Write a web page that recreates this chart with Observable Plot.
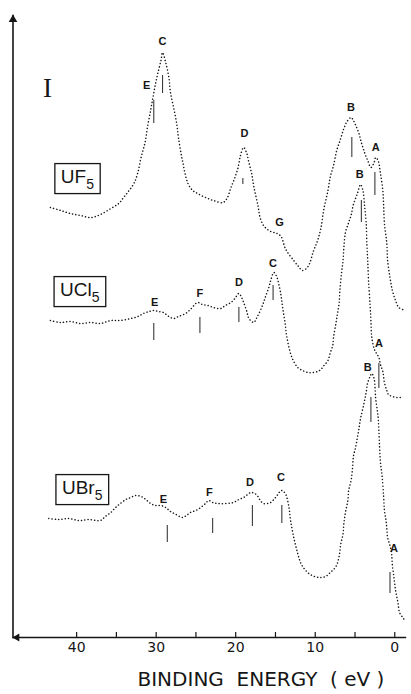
<!DOCTYPE html>
<html><head><meta charset="utf-8">
<script src="https://cdn.jsdelivr.net/npm/d3@7"></script>
<script src="https://cdn.jsdelivr.net/npm/@observablehq/plot@0.6"></script>
<style>body{margin:0;background:#fff}</style>
</head><body><div id="chart"></div>
<script>
// Binding energy (eV) and intensity (arbitrary units, spectra stacked)
const uf5E = [43.3,42.0,40.8,39.5,38.2,37.0,35.7,34.7,34.1,33.5,32.8,32.3,31.9,31.4,31.1,30.7,30.4,30.1,29.8,29.4,29.2,28.8,28.4,28.2,27.8,27.4,27.2,26.7,26.0,25.4,24.8,23.8,22.8,21.6,21.1,20.6,20.1,19.7,19.4,19.0,18.6,18.4,18.0,17.7,17.2,16.9,16.4,15.6,14.8,14.3,13.7,12.7,12.1,11.6,10.9,10.2,9.7,9.3,8.9,8.4,8.1,7.7,7.3,6.8,6.4,6.0,5.5,5.2,4.9,4.5,4.2,3.8,3.4,3.0,2.6,2.4,2.1,1.8,1.5,1.4,1.3,1.0,0.9,0.6,0.3,-0.1,-0.5,-1.0];
const uf5I = [430,427,424,422,420,423,429,434,440,446,454,465,480,495,510,527,540,553,564,577,585,575,560,545,530,513,500,477,454,447,444,440,437,435,439,450,460,470,482,490,484,477,464,450,432,419,411,406,404,401,388,377,371,367,371,387,397,409,429,447,461,472,487,499,509,516,520,517,512,504,495,485,477,470,475,480,477,464,447,432,414,394,377,360,347,337,330,328];

const ucl5E = [43.3,42.0,40.8,39.5,38.2,37.0,35.7,34.5,33.2,32.3,31.6,30.9,30.3,29.7,29.1,28.4,27.8,27.2,26.3,25.7,24.8,24.2,23.5,22.8,21.9,21.3,20.6,20.1,19.6,19.2,19.0,18.6,18.4,18.0,17.7,17.4,16.9,16.5,16.2,15.8,15.6,15.2,14.8,14.6,14.3,14.1,13.8,13.6,13.1,12.7,12.2,11.6,10.9,10.3,9.7,9.3,8.9,8.4,8.1,7.8,7.7,7.4,7.2,7.0,6.9,6.7,6.5,6.4,6.2,5.8,5.5,5.2,4.7,4.3,4.0,3.8,3.6,3.5,3.4,3.3,3.1,3.0,2.9,2.6,2.3,2.0,1.8,1.5,1.3,1.0,0.8,0.3,-0.3,-1.0];
const ucl5I = [317,315,316,314,315,314,317,317,319,321,324,326,327,326,325,321,319,321,324,328,335,333,332,330,329,332,335,339,344,339,335,326,320,316,315,319,327,335,342,351,357,365,360,354,342,330,315,302,284,276,270,267,265,265,266,268,272,277,285,292,300,314,324,334,347,364,377,390,405,415,422,433,444,453,447,432,415,392,377,357,332,317,301,289,284,280,273,266,255,247,243,241,240,240];

const ubr5E = [43.5,42.3,41.0,39.7,38.5,37.0,36.4,35.7,35.1,34.5,33.8,33.2,32.6,31.9,31.3,30.7,30.1,29.4,28.8,28.2,27.5,26.7,26.2,25.7,25.0,24.4,23.8,23.4,22.9,22.3,21.3,20.3,19.6,19.0,18.5,18.1,17.6,17.2,16.9,16.5,16.0,15.6,15.1,14.7,14.3,14.0,13.7,13.3,13.1,12.7,12.2,11.8,11.4,10.8,10.1,9.3,8.7,8.1,7.4,7.0,6.8,6.5,6.4,6.2,5.9,5.8,5.5,5.3,5.2,4.9,4.7,4.5,4.3,3.9,3.6,3.4,3.1,2.9,2.6,2.4,2.1,2.0,1.9,1.8,1.6,1.4,1.3,1.1,1.0,0.9,0.6,0.4,0.3,0.1,-0.1,-0.4,-0.6,-1.0,-1.3];
const ubr5I = [119,118,119,117,118,117,121,125,130,134,138,140,142,141,138,134,132,132,130,126,123,120,122,125,127,130,134,137,135,134,134,135,138,140,143,145,144,141,137,134,134,135,139,143,147,146,143,130,117,100,84,74,69,64,61,60,61,65,71,81,93,104,114,125,137,147,157,170,181,191,200,209,219,233,245,255,261,264,259,239,221,207,189,175,162,141,127,117,109,100,92,84,72,60,47,35,25,20,17];

// Peak letters: [letter, E, I]
const uf5Labels = [["C",29.2,596],["E",31.2,552],["D",18.9,504],["G",14.5,415],["B",5.5,530],["A",2.4,490]];
const ucl5Labels = [["E",30.2,335],["F",24.5,344],["D",19.6,355],["C",15.3,374],["B",4.4,463],["A",2.0,294]];
const ubr5Labels = [["E",29.1,138],["F",23.3,145],["D",18.2,155],["C",14.3,160],["B",3.4,270],["A",0.1,89]];
// Peak position bars: [E, I from, I to]
const uf5Bars = [[29.2,544,562],[30.3,514,537],[19.1,453,459],[5.4,480,500],[2.5,442,465]];
const ucl5Bars = [[30.3,297,314],[24.5,304,320],[19.6,315,330],[15.3,337,352],[4.2,415,437],[2.0,249,274]];
const ubr5Bars = [[28.6,95,112],[22.9,104,119],[17.9,111,132],[14.2,114,132],[3.0,215,240],[0.6,44,65]];

const compounds = [["UF","5",39.9,461],["UCl","5",39.6,348],["UBr","5",39.3,150]];
const xTicks = [40,30,20,10,0];
const xMinorTicks = [35,25,15,5];

const toRows = (E, I) => E.map((e, i) => ({E: e, I: I[i]}));
const spectra = [toRows(uf5E, uf5I), toRows(ucl5E, ucl5I), toRows(ubr5E, ubr5I)];
const labels = [...uf5Labels, ...ucl5Labels, ...ubr5Labels].map(([t, E, I]) => ({t, E, I}));
const bars = [...uf5Bars, ...ucl5Bars, ...ubr5Bars].map(([E, I1, I2]) => ({E, I1, I2}));
const comps = compounds.map(([name, sub, E, I]) => ({name, sub, E, I}));

const ink = "#161616";
const chart = Plot.plot({
  width: 411, height: 694,
  marginLeft: 12.5, marginRight: 4.8, marginTop: 15, marginBottom: 57,
  x: {domain: [48, -1.5]},
  y: {domain: [0, 622], axis: null},
  style: {background: "#fff", fontFamily: "DejaVu Sans", color: ink},
  marks: [
    Plot.frame({anchor: "left", stroke: ink, strokeWidth: 1.6}),
    Plot.ruleY([0], {stroke: ink, strokeWidth: 1.6}),
    Plot.dot([0], {frameAnchor: "top-left", symbol: "triangle", r: 3.2, fill: ink, dy: 4}),
    Plot.dot([0], {frameAnchor: "bottom-left", symbol: "triangle", r: 3, fill: ink, rotate: -90, dx: 4}),
    Plot.ruleX([...xTicks, ...xMinorTicks], {x: d => d, y1: 0, y2: 5, stroke: ink, strokeWidth: 1.2}),
    Plot.axisX({ticks: xTicks, tickSize: 0, tickPadding: 5, fontSize: 14, label: null, fill: ink}),
    ...spectra.map(s => Plot.line(s, {x: "E", y: "I", curve: "catmull-rom", stroke: ink,
      strokeWidth: 1.5, strokeDasharray: "0.1 3.2", strokeLinecap: "round"})),
    Plot.ruleX(bars, {x: "E", y1: "I1", y2: "I2", stroke: "#3a3a3a", strokeWidth: 1.1}),
    Plot.text(labels, {x: "E", y: "I", text: "t", fontSize: 11, fontWeight: "bold",
      fontFamily: "Liberation Sans", fill: ink}),
    Plot.text(comps, {x: "E", y: "I", text: "name", fontSize: 19, fontFamily: "Liberation Sans",
      fill: ink, className: "compound"}),
    Plot.text(["I"], {frameAnchor: "top-left", dx: 30, dy: 62, fontSize: 27,
      fontFamily: "Liberation Serif", fill: ink}),
    Plot.text(["BINDING\u00A0\u00A0ENERGY\u00A0\u00A0(\u00A0eV\u00A0)"], {frameAnchor: "bottom-left",
      textAnchor: "start", dx: 124.5, dy: 48, fontSize: 20, fontFamily: "DejaVu Sans", fill: ink})
  ]
});
document.getElementById("chart").append(chart);

// subscript digits and boxes around the compound names
d3.select(chart).selectAll("g.compound text").each(function(d, i) {
  const t = d3.select(this);
  t.append("tspan").attr("font-size", 14).attr("dy", 6).text(comps[i].sub);
  const b = this.getBBox();
  d3.select(this.parentNode).insert("rect", ":first-child")
    .attr("transform", t.attr("transform"))
    .attr("x", b.x - 6).attr("y", b.y - 2)
    .attr("width", b.width + 12).attr("height", b.height + 4)
    .attr("fill", "none").attr("stroke", ink).attr("stroke-width", 1.3);
});
</script>
</body></html>
